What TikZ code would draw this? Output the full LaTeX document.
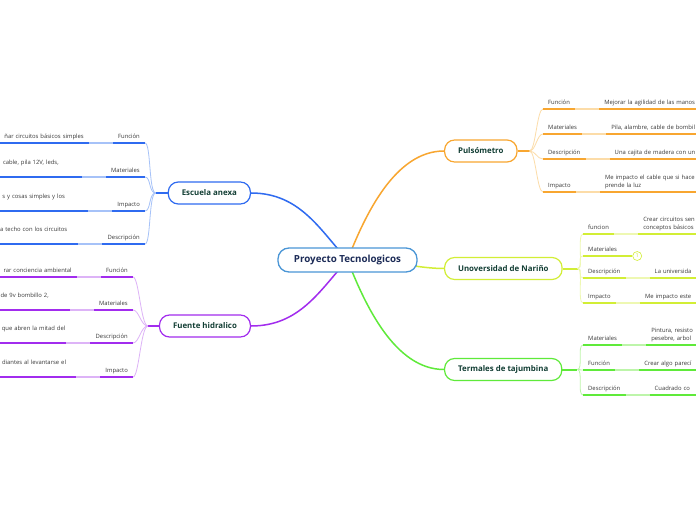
\documentclass[tikz,border=0pt]{standalone}
\usepackage{fontspec}
\setmainfont{Open Sans}
\usetikzlibrary{positioning, backgrounds}

\definecolor{escblue}{HTML}{2F6BF0}
\definecolor{escblueL}{HTML}{A6C2F8}
\definecolor{fuepurple}{HTML}{A22CEE}
\definecolor{fuepurpleL}{HTML}{DDB3F7}
\definecolor{pulorange}{HTML}{F8A630}
\definecolor{pulorangeL}{HTML}{FCDCA8}
\definecolor{uniyellow}{HTML}{D2EE35}
\definecolor{uniyellowL}{HTML}{EEF8B2}
\definecolor{tergreen}{HTML}{5FEA3A}
\definecolor{tergreenL}{HTML}{BDF5AA}
\definecolor{rootblue}{HTML}{4A96D6}
\definecolor{roottext}{HTML}{1C2B57}
\definecolor{branchtext}{HTML}{123E34}
\definecolor{leaftext}{HTML}{3A3A3A}

\tikzset{
  root/.style={draw=rootblue, line width=1.3bp, fill=white, rounded corners=11bp,
    minimum height=24bp, inner xsep=16bp, text=roottext,
    font=\bfseries\fontsize{9.8}{11}\selectfont},
  branch/.style={draw=#1, line width=1.2bp, fill=white, rounded corners=10bp,
    minimum height=22bp, inner xsep=13.5bp, text=branchtext,
    font=\bfseries\fontsize{7.9}{9}\selectfont},
  leaf/.style={font=\fontsize{5.9}{8}\selectfont, text=leaftext,
    inner xsep=5bp, inner ysep=4bp, text depth=0pt},
  detail/.style={font=\fontsize{5.9}{8}\selectfont, text=leaftext,
    inner xsep=5bp, inner ysep=1.6bp, text width=130bp,
    execute at end node={\strut}},
  mainline/.style={draw=#1, line width=1.5bp},
  fanline/.style={draw=#1, line width=0.8bp},
  underline/.style={draw=#1, line width=2bp},
  joinline/.style={draw=#1, line width=1.5bp},
}

\begin{document}
\begin{tikzpicture}[x=1bp, y=-1bp]
  \useasboundingbox (0,0) rectangle (696,520);
  \clip (0,0) rectangle (696,520);

  % centre and main topics
  \node[root] (proyecto) at (347.5,260) {Proyecto Tecnologicos};
  \node[branch=escblue, anchor=east] (escuela) at (251,193) {Escuela anexa};
  \node[branch=fuepurple, anchor=east] (fuente) at (251,326) {Fuente hidralico};
  \node[branch=pulorange, anchor=west] (pulso) at (444,151) {Pulsómetro};
  \node[branch=uniyellow, anchor=west] (narino) at (444,268.5) {Unoversidad de Nariño};
  \node[branch=tergreen, anchor=west] (termales) at (444,369.5) {Termales de tajumbina};

  \coordinate[left=12bp of escuela.west] (escuela-j);
  \coordinate[left=11bp of fuente.west] (fuente-j);
  \coordinate[right=12bp of pulso.east] (pulso-j);
  \coordinate[right=15bp of narino.east] (narino-j);
  \coordinate[right=15bp of termales.east] (termales-j);

  \begin{scope}[on background layer]
    \fill[white] (0,0) rectangle (696,520);
    \draw[mainline=escblue] (proyecto.center) .. controls (320,230) and (300,193) .. (escuela.east);
    \draw[mainline=fuepurple] (proyecto.center) .. controls (320,290) and (300,326) .. (fuente.east);
    \draw[mainline=pulorange] (proyecto.center) .. controls (365,215) and (395,151) .. (pulso.west);
    \draw[mainline=uniyellow] (proyecto.center) .. controls (400,262) and (420,268.5) .. (narino.west);
    \draw[mainline=tergreen] (proyecto.center) .. controls (365,305) and (395,369.5) .. (termales.west);
  \end{scope}

  \draw[underline=escblue] (escuela.west) -- (escuela-j);
  \draw[underline=fuepurple] (fuente.west) -- (fuente-j);
  \draw[underline=pulorange] (pulso.east) -- (pulso-j);
  \draw[underline=uniyellow] (narino.east) -- (narino-j);
  \draw[underline=tergreen] (termales.east) -- (termales-j);

  % Escuela anexa
  \foreach \n/\y/\g/\lab/\txt in {e1/143/0bp/Función/{ñar circuitos básicos simples},
      e2/177/18bp/Materiales/{cable, pila 12V, leds,\\\mbox{}},
      e3/211/18bp/Impacto/{s y cosas simples y los\\\mbox{}},
      e4/244/6bp/Descripción/{a techo con los circuitos\\\mbox{}}}{
    \node[leaf, anchor=south east] (\n) at (145,\y) {\lab};
    \coordinate (\n-j) at ([xshift=-24bp]\n.south west);
    \node[detail, align=right, anchor=south east] (\n-t) at ([xshift=-\g]\n-j) {\txt};
    \draw[fanline=escblueL] (escuela-j) .. controls +(-7,0) and +(6,0) .. (\n.south east);
    \draw[underline=escblue] (\n.south west) -- (\n.south east);
    \draw[joinline=escblueL] (\n-j) -- (\n.south west);
    \draw[underline=escblue] (\n-t.south west) -- (\n-j);
  }

  % Fuente hidralico
  \foreach \n/\y/\g/\lab/\txt in {f1/277/0bp/Función/{rar conciencia ambiental},
      f2/310/16bp/Materiales/{de 9v bombillo 2,\\\mbox{}},
      f3/343/-4bp/Descripción/{que abren la mitad del\\\mbox{}},
      f4/377/5bp/Impacto/{diantes al levantarse el\\\mbox{}}}{
    \node[leaf, anchor=south east] (\n) at (133,\y) {\lab};
    \coordinate (\n-j) at ([xshift=-24bp]\n.south west);
    \node[detail, align=right, anchor=south east] (\n-t) at ([xshift=-\g]\n-j) {\txt};
    \draw[fanline=fuepurpleL] (fuente-j) .. controls +(-7,0) and +(6,0) .. (\n.south east);
    \draw[underline=fuepurple] (\n.south west) -- (\n.south east);
    \draw[joinline=fuepurpleL] (\n-j) -- (\n.south west);
    \draw[underline=fuepurple] (\n-t.south west) -- (\n-j);
  }

  % Pulsometro
  \foreach \n/\y/\lab/\txt in {p1/109/Función/{Mejorar la agilidad de las manos},
      p2/134/Materiales/{Pila, alambre, cable de bombil},
      p3/159/Descripción/{Una cajita de madera con un},
      p4/192/Impacto/{Me impacto el cable que si hace\\prende la luz}}{
    \node[leaf, anchor=south west] (\n) at (543,\y) {\lab};
    \node[detail, align=left, anchor=south west] (\n-t) at ([xshift=24bp]\n.south east) {\txt};
    \draw[fanline=pulorangeL] (pulso-j) .. controls +(6,0) and +(-6,0) .. (\n.south west);
    \draw[underline=pulorange] (\n.south west) -- (\n.south east);
    \draw[joinline=pulorangeL] (\n.south east) -- (\n-t.south west);
    \draw[underline=pulorange] (\n-t.south west) -- (\n-t.south east);
  }

  % Unoversidad de Narino
  \foreach \n/\y/\lab/\txt in {u1/234/funcion/{Crear circuitos sen\\conceptos básicos},
      u3/278/Descripción/{La universida},
      u4/303/Impacto/{Me impacto este}}{
    \node[leaf, anchor=south west] (\n) at (583,\y) {\lab};
    \node[detail, align=left, anchor=south west] (\n-t) at ([xshift=24bp]\n.south east) {\txt};
    \draw[fanline=uniyellowL] (narino-j) .. controls +(6,0) and +(-6,0) .. (\n.south west);
    \draw[underline=uniyellow] (\n.south west) -- (\n.south east);
    \draw[joinline=uniyellowL] (\n.south east) -- (\n-t.south west);
    \draw[underline=uniyellow] (\n-t.south west) -- (\n-t.south east);
  }
  \node[leaf, anchor=south west, text width=39bp, align=left] (u2) at (583,256) {Materiales};
  \node[circle, draw=uniyellow, line width=0.6bp, fill=white, inner sep=0pt, minimum size=9bp,
    text=uniyellow, font=\fontsize{5.5}{6}\selectfont, anchor=west] (u2-n) at (u2.south east) {1};
  \draw[fanline=uniyellowL] (narino-j) .. controls +(6,0) and +(-6,0) .. (u2.south west);
  \draw[underline=uniyellow] (u2.south west) -- (u2-n.west);

  % Termales de tajumbina
  \foreach \n/\y/\lab/\txt in {t1/345/Materiales/{Pintura, resisto\\pesebre, arbol},
      t2/370/Función/{Crear algo parecí},
      t3/395/Descripción/{Cuadrado co}}{
    \node[leaf, anchor=south west] (\n) at (583,\y) {\lab};
    \node[detail, align=left, anchor=south west] (\n-t) at ([xshift=24bp]\n.south east) {\txt};
    \draw[fanline=tergreenL] (termales-j) .. controls +(6,0) and +(-6,0) .. (\n.south west);
    \draw[underline=tergreen] (\n.south west) -- (\n.south east);
    \draw[joinline=tergreenL] (\n.south east) -- (\n-t.south west);
    \draw[underline=tergreen] (\n-t.south west) -- (\n-t.south east);
  }
\end{tikzpicture}
\end{document}
